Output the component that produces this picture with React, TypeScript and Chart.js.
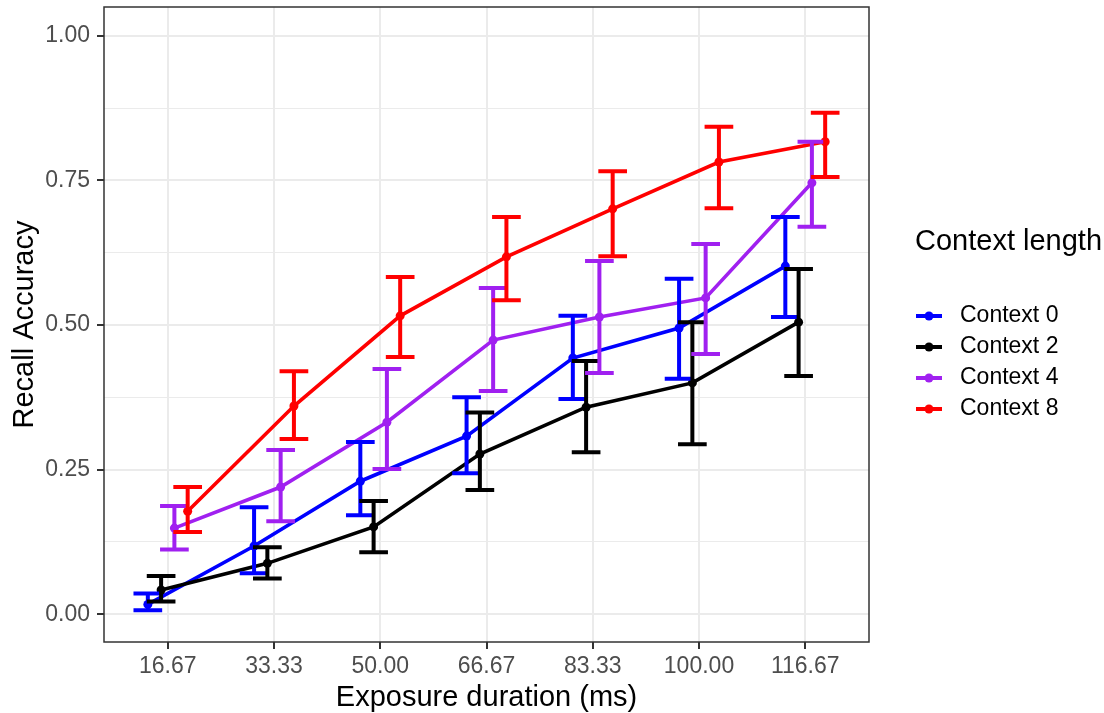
import React, { useEffect, useRef } from "react";
import { Chart, registerables } from "chart.js";

Chart.register(...registerables);

// ---- data ----
const categories = ["16.67", "33.33", "50.00", "66.67", "83.33", "100.00", "116.67"];
const seriesNames = ["Context 0", "Context 2", "Context 4", "Context 8"];
const seriesColors = ["#0000FF", "#000000", "#A020F0", "#FF0000"];

const ctx0Mean = [0.017, 0.118, 0.230, 0.308, 0.443, 0.495, 0.602];
const ctx0Low = [0.007, 0.071, 0.171, 0.244, 0.372, 0.407, 0.514];
const ctx0High = [0.036, 0.185, 0.298, 0.375, 0.516, 0.580, 0.687];

const ctx2Mean = [0.042, 0.088, 0.151, 0.277, 0.358, 0.400, 0.505];
const ctx2Low = [0.022, 0.062, 0.107, 0.215, 0.280, 0.294, 0.412];
const ctx2High = [0.066, 0.116, 0.196, 0.349, 0.438, 0.505, 0.597];

const ctx4Mean = [0.149, 0.220, 0.332, 0.474, 0.514, 0.547, 0.746];
const ctx4Low = [0.112, 0.161, 0.251, 0.386, 0.417, 0.450, 0.670];
const ctx4High = [0.187, 0.284, 0.424, 0.564, 0.611, 0.640, 0.817];

const ctx8Mean = [0.178, 0.360, 0.516, 0.618, 0.701, 0.782, 0.817];
const ctx8Low = [0.142, 0.303, 0.445, 0.543, 0.619, 0.702, 0.756];
const ctx8High = [0.220, 0.420, 0.583, 0.687, 0.766, 0.843, 0.867];

const yTickValues = [0, 0.125, 0.25, 0.375, 0.5, 0.625, 0.75, 0.875, 1.0];

const means = [ctx0Mean, ctx2Mean, ctx4Mean, ctx8Mean];
const lows = [ctx0Low, ctx2Low, ctx4Low, ctx8Low];
const highs = [ctx0High, ctx2High, ctx4High, ctx8High];

// dodge (position_dodge width 0.5, 4 groups)
const DODGE = [-0.1875, -0.0625, 0.0625, 0.1875];
const CAP_HALF = 0.135;

const FONT = "'Liberation Sans', Arial, Helvetica, sans-serif";

const isMajor = (v: number) => Math.abs(v * 4 - Math.round(v * 4)) < 1e-6;

const errorBarPlugin = {
  id: "errorBars",
  afterDatasetsDraw(chart: any) {
    const { ctx, scales } = chart;
    const xs = scales.x;
    const ys = scales.y;
    ctx.save();
    ctx.lineWidth = 4;
    ctx.lineCap = "butt";
    for (let s = 0; s < means.length; s++) {
      ctx.strokeStyle = seriesColors[s];
      for (let j = 0; j < categories.length; j++) {
        const xv = j + 1 + DODGE[s];
        const x = xs.getPixelForValue(xv);
        const xl = xs.getPixelForValue(xv - CAP_HALF);
        const xr = xs.getPixelForValue(xv + CAP_HALF);
        const yl = ys.getPixelForValue(lows[s][j]);
        const yh = ys.getPixelForValue(highs[s][j]);
        ctx.beginPath();
        ctx.moveTo(x, yl);
        ctx.lineTo(x, yh);
        ctx.moveTo(xl, yl);
        ctx.lineTo(xr, yl);
        ctx.moveTo(xl, yh);
        ctx.lineTo(xr, yh);
        ctx.stroke();
      }
    }
    ctx.restore();
  },
};

const panelAndLegendPlugin = {
  id: "panelLegend",
  afterDraw(chart: any) {
    const { ctx, chartArea } = chart;
    ctx.save();
    // panel border
    ctx.strokeStyle = "#333333";
    ctx.lineWidth = 1.5;
    ctx.strokeRect(chartArea.left, chartArea.top, chartArea.right - chartArea.left, chartArea.bottom - chartArea.top);

    // legend
    const lx = chartArea.right + 46;
    ctx.fillStyle = "#000000";
    ctx.font = `29px ${FONT}`;
    ctx.textAlign = "left";
    ctx.textBaseline = "middle";
    ctx.fillText("Context length", lx, 242);

    ctx.font = `23px ${FONT}`;
    for (let s = 0; s < seriesNames.length; s++) {
      const y = 316 + s * 31;
      ctx.strokeStyle = seriesColors[s];
      ctx.lineWidth = 4;
      ctx.beginPath();
      ctx.moveTo(lx + 1, y);
      ctx.lineTo(lx + 27, y);
      ctx.stroke();
      ctx.fillStyle = seriesColors[s];
      ctx.beginPath();
      ctx.arc(lx + 14, y, 4.5, 0, Math.PI * 2);
      ctx.fill();
      ctx.fillStyle = "#000000";
      ctx.fillText(seriesNames[s], lx + 45, y);
    }
    ctx.restore();
  },
};

export default function App() {
  const canvasRef = useRef<HTMLCanvasElement | null>(null);

  useEffect(() => {
    if (!canvasRef.current) return;
    const datasets = means.map((m, s) => ({
      label: seriesNames[s],
      data: m.map((v, j) => ({ x: j + 1 + DODGE[s], y: v })),
      borderColor: seriesColors[s],
      backgroundColor: seriesColors[s],
      borderWidth: 3.6,
      pointRadius: 4.5,
      pointBorderWidth: 0,
      pointHoverRadius: 4.5,
      pointBackgroundColor: seriesColors[s],
      tension: 0,
      fill: false,
      order: means.length - s,
    }));

    const chart = new Chart(canvasRef.current, {
      type: "line",
      data: { datasets },
      options: {
        animation: false,
        responsive: false,
        maintainAspectRatio: false,
        events: [],
        layout: { padding: { left: 0, top: 7, right: 235, bottom: 0 } },
        plugins: {
          legend: { display: false },
          tooltip: { enabled: false },
        },
        scales: {
          x: {
            type: "linear",
            min: 0.4,
            max: 7.6,
            afterBuildTicks: (scale: any) => {
              scale.ticks = categories.map((_, i) => ({ value: i + 1 }));
            },
            afterFit: (scale: any) => {
              scale.height = 71;
              scale.paddingLeft = 0;
              scale.paddingRight = 0;
              scale.paddingTop = 0;
              scale.paddingBottom = 0;
            },
            ticks: {
              autoSkip: false,
              maxRotation: 0,
              padding: 4,
              color: "#4D4D4D",
              font: { family: FONT, size: 23 },
              callback: (_v: any, i: number) => categories[i],
            },
            grid: {
              color: "#EBEBEB",
              lineWidth: 2,
              drawTicks: true,
              tickLength: 7,
              tickColor: "#333333",
              tickWidth: 2,
            },
            border: { display: false },
            title: {
              display: true,
              text: "Exposure duration (ms)",
              color: "#000000",
              font: { family: FONT, size: 29, lineHeight: 1 },
              padding: { top: 0, bottom: 0.5 },
            },
          },
          y: {
            type: "linear",
            min: -0.048,
            max: 1.05,
            afterBuildTicks: (scale: any) => {
              scale.ticks = yTickValues.map((v) => ({ value: v }));
            },
            afterFit: (scale: any) => {
              scale.width = 104;
              scale.paddingLeft = 0;
              scale.paddingRight = 0;
              scale.paddingTop = 0;
              scale.paddingBottom = 0;
            },
            ticks: {
              autoSkip: false,
              padding: 7,
              color: "#4D4D4D",
              font: { family: FONT, size: 23 },
              callback: (v: any) => (isMajor(Number(v)) ? Number(v).toFixed(2) : ""),
            },
            grid: {
              color: "#EBEBEB",
              lineWidth: (c: any) => (c.tick && isMajor(c.tick.value) ? 2 : 1),
              drawTicks: true,
              tickLength: 7,
              tickColor: (c: any) => (c.tick && isMajor(c.tick.value) ? "#333333" : "rgba(0,0,0,0)"),
              tickWidth: 2,
            },
            border: { display: false },
            title: {
              display: true,
              text: "Recall Accuracy",
              color: "#000000",
              font: { family: FONT, size: 29, lineHeight: 1 },
              padding: { top: 10.5, bottom: 0 },
            },
          },
        },
      },
      plugins: [errorBarPlugin, panelAndLegendPlugin],
    } as any);

    return () => {
      chart.destroy();
    };
  }, []);

  return (
    <div style={{ position: "absolute", left: 0, top: 0, width: 1104, height: 713, background: "#FFFFFF" }}>
      <canvas ref={canvasRef} width={1104} height={713} style={{ width: 1104, height: 713, display: "block" }} />
    </div>
  );
}
